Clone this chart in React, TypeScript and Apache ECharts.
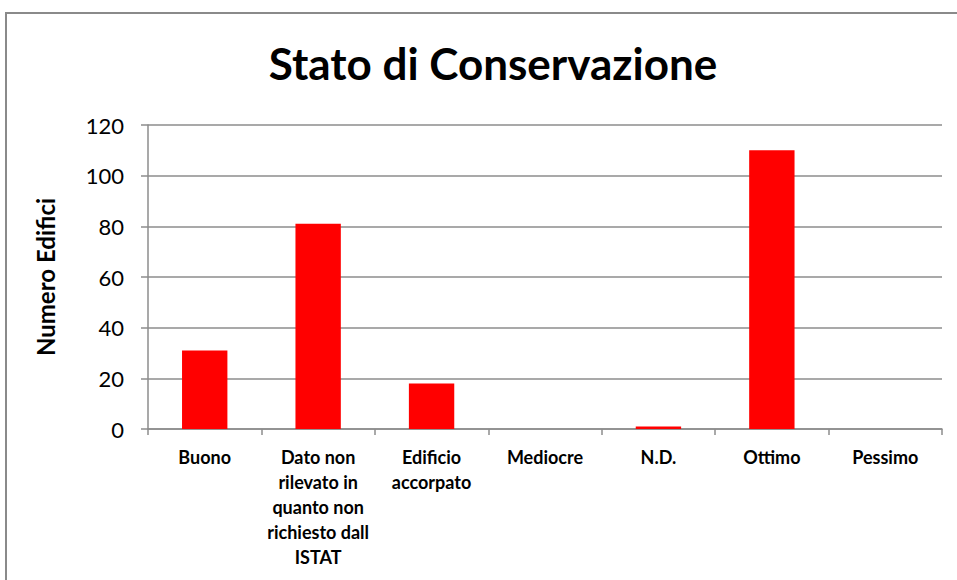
import React, { useEffect, useRef } from "react";
import * as echarts from "echarts";

const categories = [
  "Buono",
  "Dato non\nrilevato in\nquanto non\nrichiesto dall\nISTAT",
  "Edificio\naccorpato",
  "Mediocre",
  "N.D.",
  "Ottimo",
  "Pessimo",
];
const values = [31, 81, 18, 0, 1, 110, 0];
const titleText = "Stato di Conservazione";
const yAxisName = "Numero Edifici";
const yMin = 0;
const yMax = 120;
const yInterval = 20;

const FONT = "Lato, 'Open Sans', 'Noto Sans', sans-serif";

export default function App() {
  const ref = useRef<HTMLDivElement>(null);
  useEffect(() => {
    if (!ref.current) return;
    const chart = echarts.init(ref.current, null, { renderer: "svg" });
    chart.setOption({
      animation: false,
      backgroundColor: "#ffffff",
      textStyle: { fontFamily: FONT },
      title: {
        text: titleText,
        left: 488,
        textAlign: "center",
        top: 36,
        textStyle: { fontFamily: FONT, fontSize: 44, fontWeight: "bold", color: "#000" },
      },
      graphic: [
        {
          type: "rect",
          shape: { x: 6, y: 13, width: 980, height: 600 },
          style: { fill: "none", stroke: "#8a8a8a", lineWidth: 2 },
          silent: true,
        },
      ],
      grid: { left: 148, right: 15, top: 125, bottom: 151, containLabel: false },
      xAxis: {
        type: "category",
        data: categories,
        axisLine: { show: true, lineStyle: { color: "#8c8c8c", width: 1.5 } },
        axisTick: { show: true, alignWithLabel: false, length: 6, lineStyle: { color: "#8c8c8c", width: 1.5 } },
        axisLabel: {
          color: "#000",
          fontSize: 18,
          fontWeight: "bold",
          lineHeight: 25,
          margin: 15,
          interval: 0,
          fontFamily: FONT,
        },
      },
      yAxis: {
        type: "value",
        min: yMin,
        max: yMax,
        interval: yInterval,
        name: yAxisName,
        nameLocation: "middle",
        nameGap: 91,
        nameRotate: 90,
        nameTextStyle: { fontSize: 24, fontWeight: "bold", color: "#000", fontFamily: FONT },
        axisLine: { show: true, lineStyle: { color: "#8c8c8c", width: 1.5 } },
        axisTick: { show: true, length: 7, lineStyle: { color: "#8c8c8c", width: 1.5 } },
        axisLabel: { color: "#000", fontSize: 22, margin: 24, fontFamily: FONT },
        splitLine: { show: true, lineStyle: { color: "#8c8c8c", width: 1.5 } },
      },
      series: [
        {
          type: "bar",
          data: values,
          barCategoryGap: "60%",
          itemStyle: { color: "#ff0000", borderWidth: 0 },
        },
      ],
    });
    return () => chart.dispose();
  }, []);
  return (
    <div
      ref={ref}
      style={{ position: "absolute", left: 0, top: 0, width: 957, height: 580 }}
    />
  );
}
